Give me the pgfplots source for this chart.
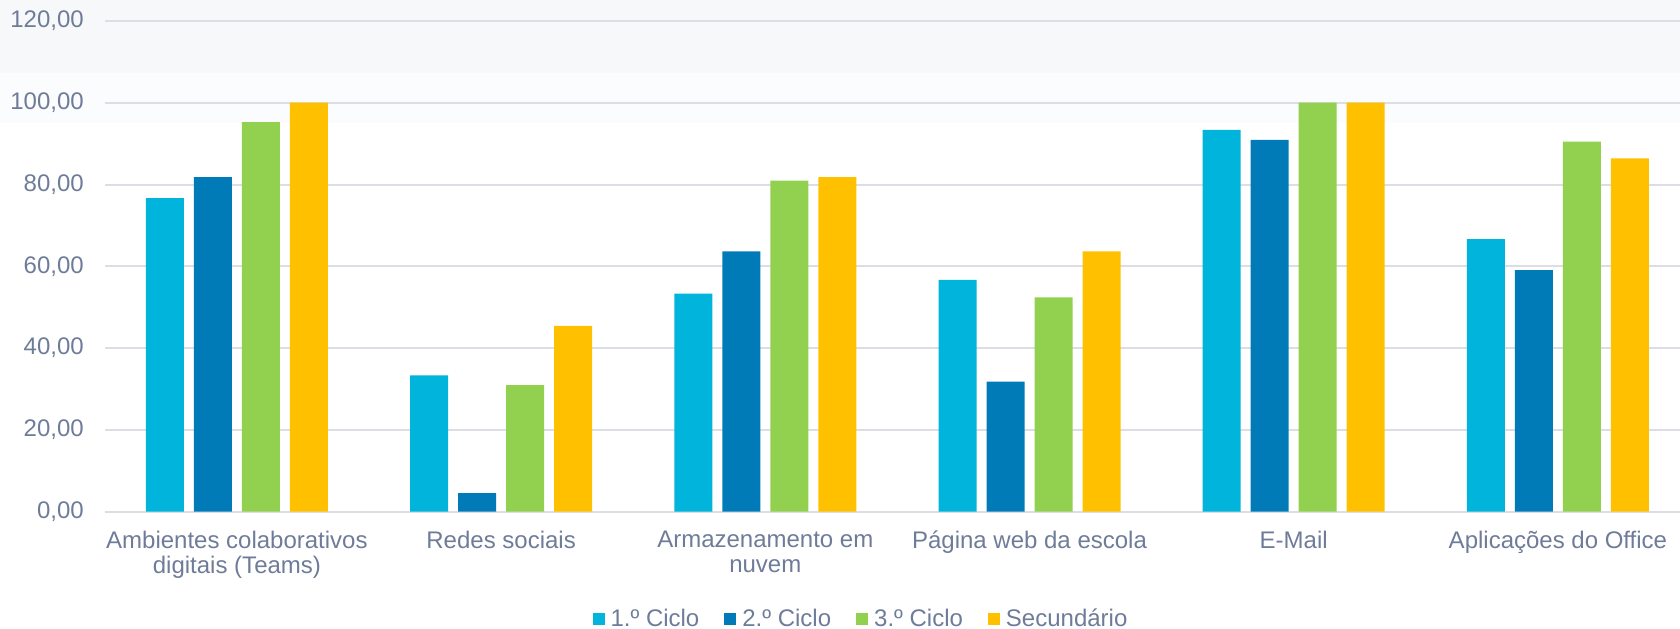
\documentclass[border=0pt]{standalone}
\usepackage{fontspec}
\setmainfont{Liberation Sans}
\usepackage{pgfplots}
\pgfplotsset{compat=1.18}
\definecolor{cA}{HTML}{00B4DC}
\definecolor{cB}{HTML}{007BB8}
\definecolor{cC}{HTML}{92D050}
\definecolor{cD}{HTML}{FFC000}
\definecolor{txt}{HTML}{6F7C99}
\definecolor{gridc}{HTML}{DCDEE6}
\definecolor{bgA}{HTML}{F7F8FA}
\definecolor{bgB}{HTML}{FBFCFD}
\begin{document}
\begin{tikzpicture}
\useasboundingbox (0,0) rectangle (840pt,314pt);
\fill[bgA] (0,277.5pt) rectangle (840pt,314pt);
\fill[bgB] (0,252.5pt) rectangle (840pt,277.5pt);
\begin{axis}[
  at={(52.4pt,58.15pt)}, anchor=south west,
  scale only axis, width=792.6pt, height=245.4pt,
  ybar=5pt, bar width=19pt,
  xmin=-0.5, xmax=5.5, ymin=0, ymax=120,
  ytick={0,20,...,120},
  xtick={0,1,2,3,4,5},
  xticklabels={{Ambientes colaborativos\\digitais (Teams)},{Redes sociais},{Armazenamento em\\nuvem},{Página web da escola},{E-Mail},{Aplicações do Office}},
  axis line style={draw=none},
  major tick length=0pt,
  ymajorgrids, grid style={gridc, line width=1pt},
  tick label style={font=\fontsize{12}{12.5}\selectfont, text=txt},
  xticklabel style={align=center, yshift=-6pt},
  yticklabel style={xshift=-7pt},
  /pgf/number format/assume math mode=true,
  yticklabel={\pgfmathprintnumber[fixed, fixed zerofill, precision=2, use comma, 1000 sep={}]{\tick}},
  legend columns=-1,
  legend style={draw=none, fill=none, at={(0.4764,-0.2186)}, anchor=center,
    font=\fontsize{12}{12.5}\selectfont, text=txt, inner sep=0pt,
    nodes={inner sep=0pt},
    /tikz/every odd column/.append style={column sep=3pt},
    /tikz/every even column/.append style={column sep=12.5pt}},
  legend image code/.code={\fill[#1,draw=none] (0pt,-3pt) rectangle (6pt,3pt);},
]
\addplot[fill=cA, draw=none] coordinates {(0,76.67) (1,33.33) (2,53.33) (3,56.67) (4,93.33) (5,66.67)};
\addplot[fill=cB, draw=none] coordinates {(0,81.82) (1,4.55) (2,63.64) (3,31.82) (4,90.91) (5,59.09)};
\addplot[fill=cC, draw=none] coordinates {(0,95.24) (1,30.95) (2,80.95) (3,52.38) (4,100) (5,90.48)};
\addplot[fill=cD, draw=none] coordinates {(0,100) (1,45.45) (2,81.82) (3,63.64) (4,100) (5,86.36)};
\legend{1.º Ciclo, 2.º Ciclo, 3.º Ciclo, Secundário}
\end{axis}
\end{tikzpicture}
\end{document}
